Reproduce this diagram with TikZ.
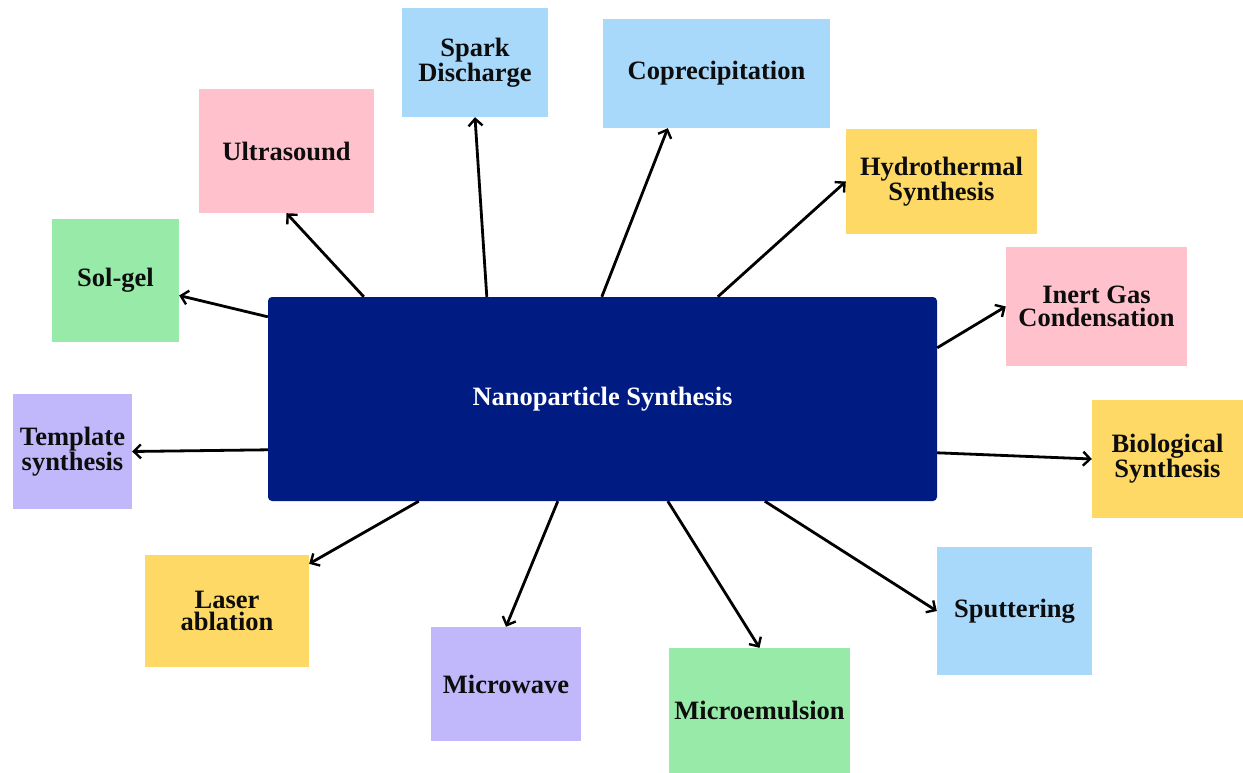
\documentclass[tikz,border=0pt]{standalone}
\usepackage{fontspec}
\setmainfont{Liberation Serif}
\usetikzlibrary{arrows.meta,calc}
\definecolor{navy}{RGB}{0,28,130}
\definecolor{lblue}{RGB}{168,216,250}
\definecolor{lpink}{RGB}{255,194,204}
\definecolor{lyellow}{RGB}{255,217,102}
\definecolor{lgreen}{RGB}{152,234,168}
\definecolor{lviolet}{RGB}{192,184,250}
\begin{document}
\begin{tikzpicture}[x=1pt,y=-1pt,
  leaf/.style={inner sep=0pt, align=center, text=black!95,
    font=\fontsize{26.5}{22.5}\selectfont\bfseries},
  hub/.style={inner sep=0pt, align=center, text=white, fill=navy,
    rounded corners=4pt, font=\fontsize{26.5}{22.5}\selectfont\bfseries},
  conn/.style={line width=2.8pt, draw=black,
    -{Straight Barb[length=7pt,width=14pt,line width=2.4pt]}}]
\useasboundingbox (0,0) rectangle (1243,773);
\fill[white] (0,0) rectangle (1243,773);

\node[hub, minimum width=669pt, minimum height=204pt] (c) at (602.5,399) {Nanoparticle Synthesis};

\node[leaf, fill=lblue, minimum width=146pt, minimum height=109pt] (spark) at (475,62.5) {Spark\\Discharge};
\node[leaf, fill=lblue, minimum width=227pt, minimum height=109pt] (copre) at (716.5,73.5) {Coprecipitation};
\node[leaf, fill=lpink, minimum width=175pt, minimum height=124pt] (ultra) at (286.5,151) {Ultrasound};
\node[leaf, fill=lyellow, minimum width=191pt, minimum height=105pt] (hydro) at (941.5,181.5) {Hydrothermal\\Synthesis};
\node[leaf, fill=lgreen, minimum width=127pt, minimum height=123pt] (solgel) at (115.5,280.5) {Sol-gel};
\node[leaf, fill=lpink, minimum width=181pt, minimum height=119pt] (inert) at (1096.5,306.5) {Inert Gas\\Condensation};
\node[leaf, fill=lviolet, minimum width=119pt, minimum height=115pt] (templ) at (72.5,451.5) {Template\\synthesis};
\node[leaf, fill=lyellow, minimum width=151pt, minimum height=118pt] (bio) at (1167.5,459) {Biological\\Synthesis};
\node[leaf, fill=lyellow, minimum width=164pt, minimum height=112pt] (laser) at (227,611) {Laser\\ablation};
\node[leaf, fill=lviolet, minimum width=150pt, minimum height=114pt] (micro) at (506,684) {Microwave};
\node[leaf, fill=lgreen, minimum width=181pt, minimum height=125pt] (emul) at (759.5,710.5) {Microemulsion};
\node[leaf, fill=lblue, minimum width=155pt, minimum height=128pt] (sputt) at (1014.5,611) {Sputtering};

\draw[conn] ($(c.north west)+(96,0)$) -- (ultra.south);
\draw[conn] ($(c.north west)+(219,0)$) -- (spark.south);
\draw[conn] ($(c.north west)+(334,0)$) -- ($(copre.south west)+(65,0)$);
\draw[conn] ($(c.north west)+(450,0)$) -- (hydro.west);
\draw[conn] ($(c.north west)+(0,20)$) -- ($(solgel.east)+(0,15)$);
\draw[conn] ($(c.north west)+(0,153)$) -- (templ.east);
\draw[conn] ($(c.north east)+(0,51)$) -- (inert.west);
\draw[conn] ($(c.north east)+(0,156)$) -- (bio.west);
\draw[conn] ($(c.south west)+(151,0)$) -- ($(laser.north east)+(0,9)$);
\draw[conn] ($(c.south west)+(290,0)$) -- (micro.north);
\draw[conn] ($(c.south west)+(400,0)$) -- (emul.north);
\draw[conn] ($(c.south west)+(497,0)$) -- (sputt.west);
\end{tikzpicture}
\end{document}
